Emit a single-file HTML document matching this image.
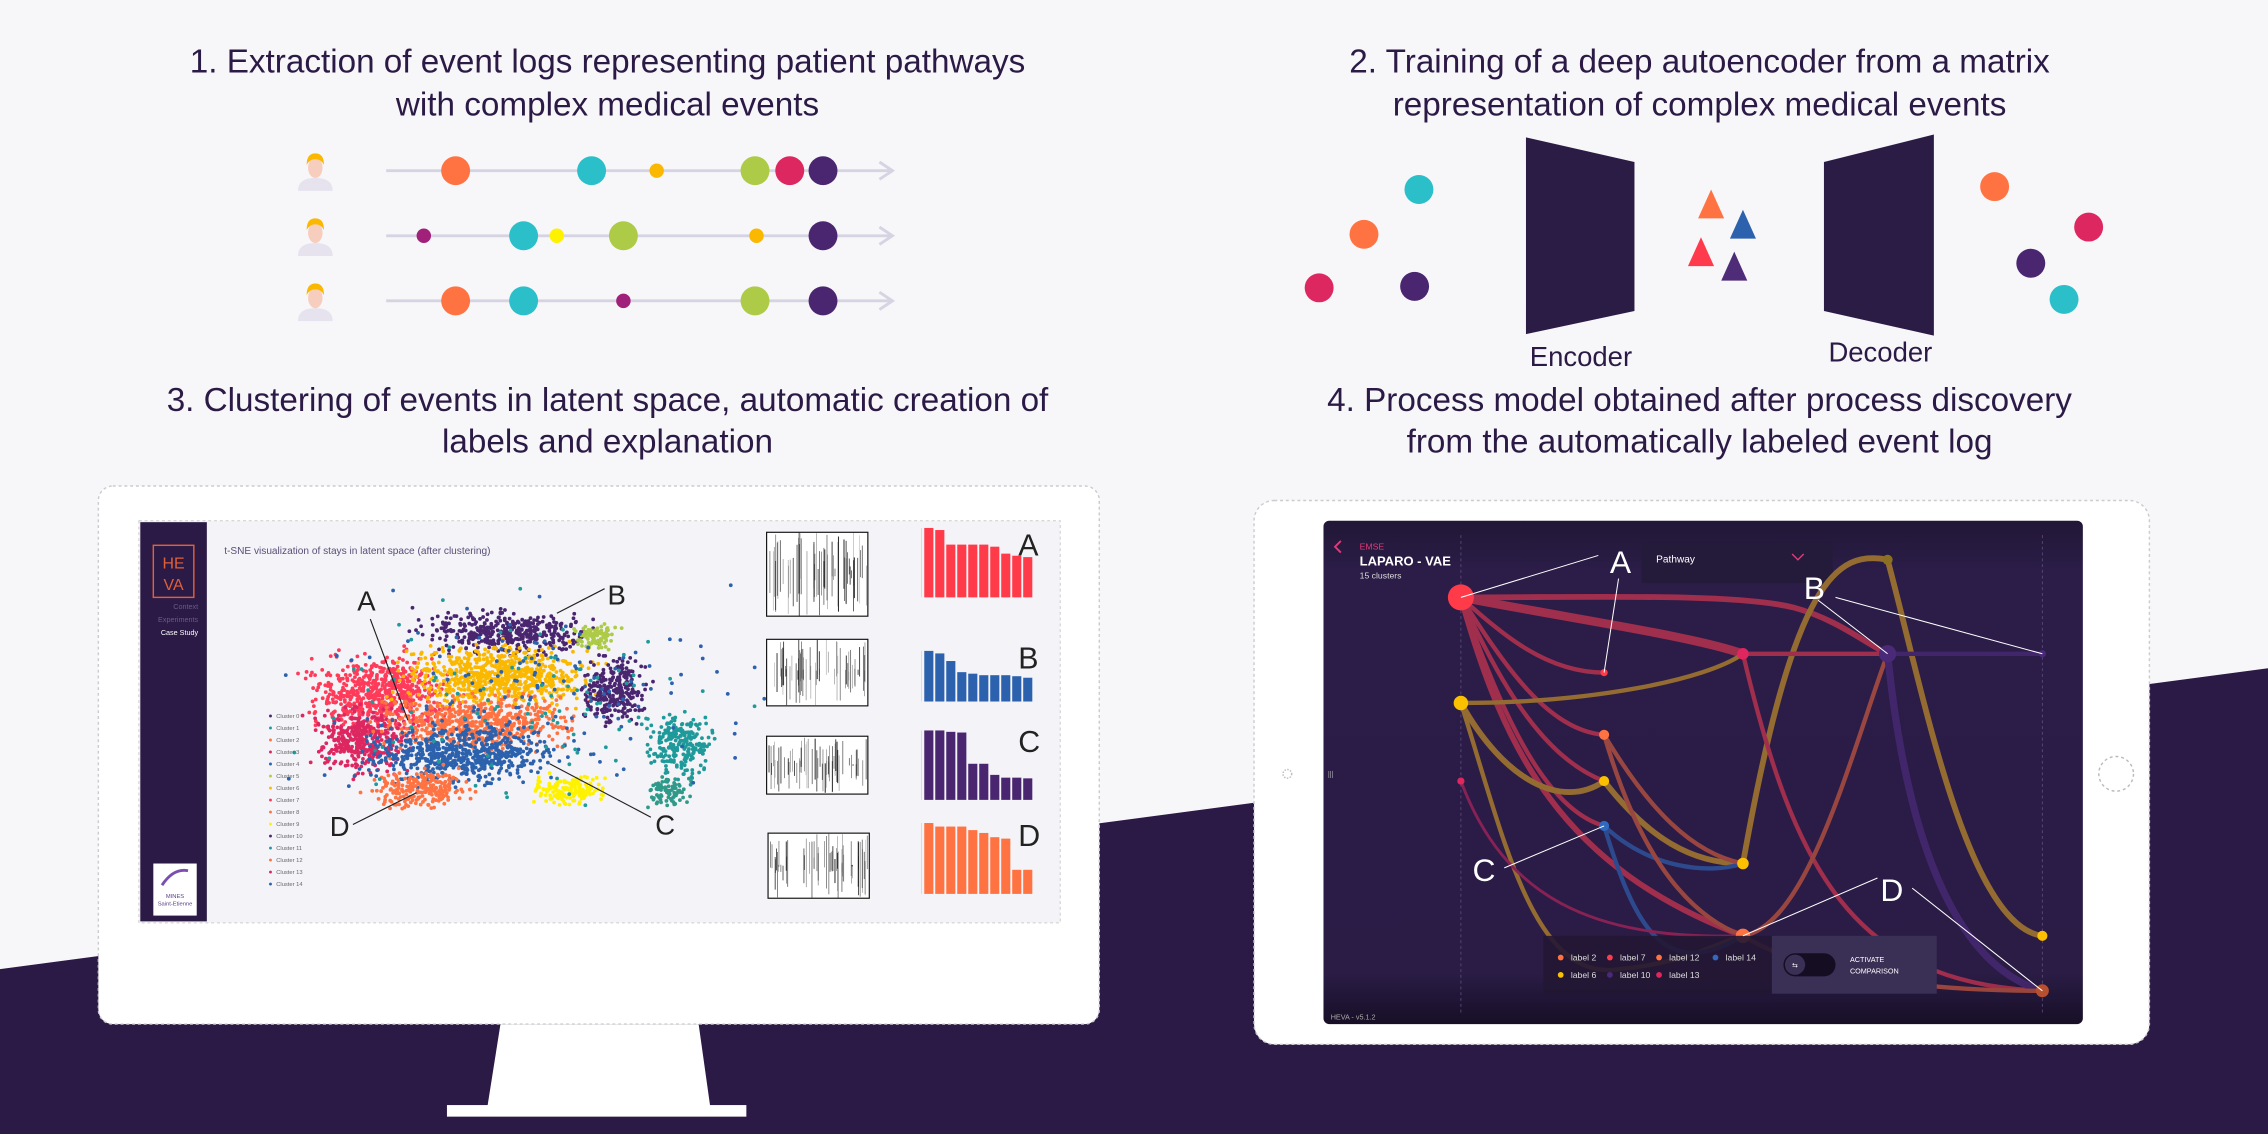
<!DOCTYPE html>
<html><head><meta charset="utf-8"><style>
html,body{margin:0;padding:0;background:#f7f6f9;overflow:hidden}
svg{display:block}
text{font-family:"Liberation Sans",sans-serif}
</style></head><body>
<svg id="s" width="2268" height="1134" viewBox="0 0 1568 784" xmlns="http://www.w3.org/2000/svg">
<rect width="1568" height="784" fill="#f7f6f9"/>
<polygon points="0,670 1568,462 1568,784 0,784" fill="#2b1a45"/>

<!-- titles -->
<g fill="#2b1a45" font-size="23" text-anchor="middle">
<text x="420" y="50">1. Extraction of event logs representing patient pathways</text>
<text x="420" y="80">with complex medical events</text>
<text x="1175" y="50">2. Training of a deep autoencoder from a matrix</text>
<text x="1175" y="80">representation of complex medical events</text>
<text x="420" y="284">3. Clustering of events in latent space, automatic creation of</text>
<text x="420" y="313">labels and explanation</text>
<text x="1175" y="284">4. Process model obtained after process discovery</text>
<text x="1175" y="313">from the automatically labeled event log</text>
</g>

<!-- pathways -->
<g id="persons"></g>
<g stroke="#d6d3e2" stroke-width="2" fill="none">
<line x1="267" y1="118" x2="617" y2="118"/><polyline points="608,112 617,118 608,124"/>
<line x1="267" y1="163" x2="617" y2="163"/><polyline points="608,157 617,163 608,169"/>
<line x1="267" y1="208" x2="617" y2="208"/><polyline points="608,202 617,208 608,214"/>
</g>
<g>
<circle cx="315" cy="118" r="10" fill="#ff7342"/><circle cx="409" cy="118" r="10" fill="#2bbfc9"/><circle cx="454" cy="118" r="5" fill="#fbb800"/><circle cx="522" cy="118" r="10" fill="#adcb47"/><circle cx="546" cy="118" r="10" fill="#dd2760"/><circle cx="569" cy="118" r="10" fill="#4a2670"/>
<circle cx="293" cy="163" r="5" fill="#a0207a"/><circle cx="362" cy="163" r="10" fill="#2bbfc9"/><circle cx="385" cy="163" r="5" fill="#fff200"/><circle cx="431" cy="163" r="10" fill="#adcb47"/><circle cx="523" cy="163" r="5" fill="#fbb800"/><circle cx="569" cy="163" r="10" fill="#4a2670"/>
<circle cx="315" cy="208" r="10" fill="#ff7342"/><circle cx="362" cy="208" r="10" fill="#2bbfc9"/><circle cx="431" cy="208" r="5" fill="#a0207a"/><circle cx="522" cy="208" r="10" fill="#adcb47"/><circle cx="569" cy="208" r="10" fill="#4a2670"/>
</g>

<!-- autoencoder -->
<circle cx="981" cy="131" r="10" fill="#2bbfc9"/><circle cx="943" cy="162" r="10" fill="#ff7342"/><circle cx="912" cy="199" r="10" fill="#dd2760"/><circle cx="978" cy="198" r="10" fill="#4a2670"/>
<polygon points="1055,95 1130,112 1130,215 1055,231" fill="#2b1c46"/>
<polygon points="1261,112 1337,93 1337,232 1261,215" fill="#2b1c46"/>
<polygon points="1183,131 1192,151 1174,151" fill="#ff7342"/>
<polygon points="1205,145 1214,165 1196,165" fill="#2c62ad"/>
<polygon points="1176,164 1185,184 1167,184" fill="#ff3a4c"/>
<polygon points="1199,174 1208,194 1190,194" fill="#4e2c78"/>
<circle cx="1379" cy="129" r="10" fill="#ff7342"/><circle cx="1444" cy="157" r="10" fill="#dd2760"/><circle cx="1404" cy="182" r="10" fill="#4a2670"/><circle cx="1427" cy="207" r="10" fill="#2bbfc9"/>
<text x="1093" y="253" font-size="19" fill="#2b1a45" text-anchor="middle">Encoder</text>
<text x="1300" y="250" font-size="19" fill="#2b1a45" text-anchor="middle">Decoder</text>

<!-- monitor -->
<polygon points="346,708 483,708 491,765 337,765" fill="#fff"/>
<rect x="309" y="764" width="207" height="8" fill="#fff"/>
<rect x="68" y="336" width="692" height="372" rx="10" fill="#fff" stroke="#ccc" stroke-dasharray="2,2"/>
<rect x="96" y="360" width="637" height="278" fill="#f4f3f7" stroke="#ccc" stroke-dasharray="2,2" stroke-width="0.7"/>
<rect x="97" y="361" width="46" height="276" fill="#2b1a45"/>
<rect x="106" y="377" width="28" height="36" fill="none" stroke="#e0603a" stroke-width="1"/>
<text x="120" y="393" font-size="11" fill="#e0603a" text-anchor="middle">HE</text>
<text x="120" y="408" font-size="11" fill="#e0603a" text-anchor="middle">VA</text>
<text x="137" y="421" font-size="5" fill="#6b5a8a" text-anchor="end">Context</text>
<text x="137" y="430" font-size="5" fill="#6b5a8a" text-anchor="end">Experiments</text>
<text x="137" y="439" font-size="5" fill="#fff" text-anchor="end">Case Study</text>
<rect x="106" y="597" width="30" height="36" fill="#fff"/>
<text x="121" y="621" font-size="4" fill="#5a3d8a" text-anchor="middle">MINES</text>
<text x="121" y="626" font-size="4" fill="#5a3d8a" text-anchor="middle">Saint-Etienne</text>
<path d="M112,612 q8,-12 18,-10" stroke="#7a4fb0" fill="none" stroke-width="2"/>
<text x="155" y="383" font-size="7" fill="#5a4e78">t-SNE visualization of stays in latent space (after clustering)</text>
<g id="scatter"></g>
<g id="legend"></g>
<g id="charts"></g>
<g font-size="19" fill="#222">
<text x="247" y="422">A</text><text x="420" y="418">B</text><text x="453" y="577">C</text><text x="228" y="578">D</text>
<text x="704" y="384" font-size="21">A</text><text x="704" y="462" font-size="21">B</text><text x="704" y="520" font-size="21">C</text><text x="704" y="585" font-size="21">D</text>
</g>
<g stroke="#222" stroke-width="0.8">
<line x1="256" y1="428" x2="282" y2="498"/><line x1="418" y1="407" x2="385" y2="424"/><line x1="450" y1="565" x2="380" y2="528"/><line x1="244" y1="570" x2="288" y2="548"/>
</g>

<!-- tablet -->
<rect x="867" y="346" width="619" height="376" rx="14" fill="#fff" stroke="#ccc" stroke-dasharray="2,2"/>
<circle cx="1463" cy="535" r="12" fill="none" stroke="#bbb" stroke-dasharray="2,2"/>
<circle cx="890" cy="535" r="3" fill="none" stroke="#bbb" stroke-dasharray="1,1"/>
<defs><linearGradient id="tg" x1="0" y1="0" x2="0" y2="1"><stop offset="0" stop-color="#211735"/><stop offset="0.1" stop-color="#2b1d48"/><stop offset="0.9" stop-color="#2a1c45"/><stop offset="1" stop-color="#170f26"/></linearGradient></defs>
<rect x="915" y="360" width="525" height="348" rx="4" fill="url(#tg)"/>
<line x1="1010" y1="370" x2="1010" y2="700" stroke="#5a4b78" stroke-dasharray="2,2" stroke-width="0.6"/>
<line x1="1412" y1="370" x2="1412" y2="700" stroke="#5a4b78" stroke-dasharray="2,2" stroke-width="0.6"/>
<text x="940" y="380" font-size="6" fill="#e23a78">EMSE</text>
<text x="940" y="391" font-size="9" fill="#fff" font-weight="bold">LAPARO - VAE</text>
<text x="940" y="400" font-size="6" fill="#ddd">15 clusters</text>
<polyline points="927,374 923,378 927,382" stroke="#e23a78" fill="none" stroke-width="1.3"/>
<rect x="1135" y="375" width="132" height="28" fill="#241a3a"/>
<text x="1145" y="389" font-size="7" fill="#fff">Pathway</text>
<polyline points="1239,383 1243,387 1247,383" stroke="#e23a78" fill="none" stroke-width="1"/>
<g fill="none" stroke-linecap="round" opacity="0.75">
<path d="M1010,413 C1100,413 1200,410 1240,420 C1270,428 1290,445 1305,452" stroke="#c8344f" stroke-width="4"/>
<path d="M1010,413 C1100,430 1170,440 1205,452" stroke="#c8344f" stroke-width="6"/>
<path d="M1010,413 C1040,440 1070,465 1109,465" stroke="#c8344f" stroke-width="3"/>
<path d="M1010,413 C1040,460 1070,505 1109,508" stroke="#c8344f" stroke-width="3"/>
<path d="M1010,413 C1040,480 1070,525 1109,540" stroke="#c8344f" stroke-width="3"/>
<path d="M1010,413 C1040,500 1070,560 1109,571" stroke="#c8344f" stroke-width="3"/>
<path d="M1010,413 C1040,520 1080,600 1205,647" stroke="#c8344f" stroke-width="4"/>
<path d="M1010,486 C1100,486 1180,470 1205,452" stroke="#b8862a" stroke-width="3"/>
<path d="M1010,486 C1040,540 1080,560 1109,540" stroke="#b8862a" stroke-width="4"/>
<path d="M1010,486 C1040,580 1060,680 1120,670 C1170,665 1190,650 1205,647" stroke="#b8862a" stroke-width="3"/>
<path d="M1109,540 C1140,580 1170,597 1205,597" stroke="#b8862a" stroke-width="4"/>
<path d="M1205,597 C1240,400 1270,380 1305,387 C1330,480 1360,640 1412,647" stroke="#b8862a" stroke-width="4"/>
<path d="M1109,571 C1140,600 1180,605 1205,597" stroke="#2f5aa8" stroke-width="3"/>
<path d="M1109,571 C1130,640 1150,680 1205,647" stroke="#2f5aa8" stroke-width="3"/>
<path d="M1109,508 C1140,560 1170,590 1205,597" stroke="#c0553f" stroke-width="3"/>
<path d="M1109,508 C1130,580 1160,630 1205,647" stroke="#c0553f" stroke-width="3"/>
<path d="M1205,452 L1305,452" stroke="#c8344f" stroke-width="3"/>
<path d="M1305,452 L1412,452" stroke="#4a2a78" stroke-width="3"/>
<path d="M1205,452 C1240,600 1280,680 1412,685" stroke="#c8344f" stroke-width="3"/>
<path d="M1305,452 C1280,520 1250,640 1205,647" stroke="#c0553f" stroke-width="3"/>
<path d="M1305,452 C1320,600 1360,670 1412,685" stroke="#4a2a78" stroke-width="5"/>
<path d="M1010,540 C1040,620 1100,650 1205,647" stroke="#a8235a" stroke-width="2"/>
<path d="M1205,647 C1260,680 1350,685 1412,685" stroke="#c0553f" stroke-width="3"/>
</g>
<circle cx="1010" cy="413" r="9" fill="#ff3b4a"/>
<circle cx="1010" cy="486" r="5" fill="#fbc000"/>
<circle cx="1109" cy="465" r="2.5" fill="#ff3b4a"/>
<circle cx="1109" cy="508" r="3.5" fill="#ff7342"/>
<circle cx="1109" cy="540" r="3.5" fill="#fbc000"/>
<circle cx="1109" cy="571" r="3.5" fill="#2f6ac0"/>
<circle cx="1205" cy="452" r="4" fill="#e0265e"/>
<circle cx="1305" cy="452" r="6" fill="#4a2a78"/>
<circle cx="1205" cy="597" r="4" fill="#fbc000"/>
<circle cx="1205" cy="647" r="5" fill="#ff7342"/>
<circle cx="1305" cy="387" r="3.5" fill="#8a7020"/>
<circle cx="1412" cy="452" r="2.5" fill="#4a2a78"/>
<circle cx="1412" cy="647" r="3.5" fill="#fbc000"/>
<circle cx="1412" cy="685" r="4.5" fill="#b8502f"/>
<circle cx="1010" cy="540" r="2.5" fill="#e0265e"/>
<rect x="1067" y="647" width="158" height="40" fill="#221733" opacity="0.9"/>
<rect x="1225" y="647" width="114" height="40" fill="#3a2f55"/>
<rect x="1233" y="659" width="36" height="16" rx="8" fill="#150e22"/>
<circle cx="1241" cy="667" r="7" fill="#3a2f55"/>
<text x="1241" y="669" font-size="5" fill="#fff" text-anchor="middle">⇆</text>
<text x="1279" y="665" font-size="5" fill="#fff">ACTIVATE</text>
<text x="1279" y="673" font-size="5" fill="#fff">COMPARISON</text>
<g font-size="6" fill="#ddd">
<circle cx="1079" cy="662" r="2" fill="#ff7342"/><text x="1086" y="664">label 2</text>
<circle cx="1113" cy="662" r="2" fill="#ff3b4a"/><text x="1120" y="664">label 7</text>
<circle cx="1147" cy="662" r="2" fill="#ff7342"/><text x="1154" y="664">label 12</text>
<circle cx="1186" cy="662" r="2" fill="#2f6ac0"/><text x="1193" y="664">label 14</text>
<circle cx="1079" cy="674" r="2" fill="#fbc000"/><text x="1086" y="676">label 6</text>
<circle cx="1113" cy="674" r="2" fill="#4a2a78"/><text x="1120" y="676">label 10</text>
<circle cx="1147" cy="674" r="2" fill="#e0265e"/><text x="1154" y="676">label 13</text>
</g>
<text x="920" y="705" font-size="5" fill="#aaa">HEVA - v5.1.2</text>
<text x="918" y="537" font-size="5" fill="#aaa">|||</text>
<g font-size="22" fill="#fff">
<text x="1113" y="396">A</text><text x="1247" y="414">B</text><text x="1018" y="609">C</text><text x="1300" y="623">D</text>
</g>
<g stroke="#fff" stroke-width="0.7">
<line x1="1010" y1="413" x2="1105" y2="384"/><line x1="1109" y1="465" x2="1119" y2="400"/>
<line x1="1269" y1="413" x2="1412" y2="452"/><line x1="1257" y1="415" x2="1305" y2="452"/>
<line x1="1040" y1="600" x2="1109" y2="571"/><line x1="1205" y1="647" x2="1298" y2="607"/><line x1="1322" y1="614" x2="1412" y2="685"/>
</g>
</svg>
<script>
var NS="http://www.w3.org/2000/svg";
function el(p,t,a){var e=document.createElementNS(NS,t);for(var k in a)e.setAttribute(k,a[k]);p.appendChild(e);return e;}
var seed=7;function r(){seed=(seed*16807)%2147483647;return seed/2147483647;}
function g(){return (r()+r()+r()-1.5)/1.5;}
var P=document.getElementById("persons");
[118,163,208].forEach(function(y){
 el(P,"path",{d:"M206,"+(y+14)+" q0,-9 12,-9 q12,0 12,9 z",fill:"#e6e3ee"});
 el(P,"ellipse",{cx:218,cy:y-2,rx:5,ry:7,fill:"#f7cdbd"});
 el(P,"path",{d:"M212,"+(y-4)+" q0,-8 6,-8 q6,0 6,8 q-2,-4 -6,-4 q-4,0 -6,4z",fill:"#fbb800"});
});
var S=document.getElementById("scatter");
var C=[[350,437,60,15,"#4a2670",400],[412,440,15,10,"#adcb47",90],[262,480,50,28,"#ff3b5a",650],[250,512,35,24,"#dd2760",380],[345,468,65,22,"#fbb800",750],[330,500,65,20,"#ff7342",600],[425,478,24,24,"#4a2670",280],[320,522,66,20,"#2c62ad",650],[470,515,24,24,"#1f9a9a",240],[292,545,35,14,"#ff7342",240],[395,546,26,10,"#fff200",170],[462,547,15,11,"#2f9a8a",90],[370,480,150,65,"#2c62ad",160],[360,490,160,75,"#1f9a9a",100]];
C.forEach(function(c){for(var i=0;i<c[5];i++){el(S,"circle",{cx:c[0]+g()*c[2]*1.3,cy:c[1]+g()*c[3]*1.3,r:1.3,fill:c[4]});}});
var L=document.getElementById("legend");
var lc=["#4a2670","#1f9a9a","#ff7342","#dd2760","#2c62ad","#adcb47","#fbb800","#ff3b5a","#ff7342","#fff200","#4a2670","#1f9a9a","#ff7342","#dd2760","#2c62ad"];
lc.forEach(function(c,i){var y=495+i*8.3;el(L,"circle",{cx:187,cy:y,r:1,fill:c});var t=el(L,"text",{x:191,y:y+1.5,"font-size":4,fill:"#666"});t.textContent="Cluster "+i;});
var H=document.getElementById("charts");
var bars=[[365,413,"#ff3b4a",[1,.97,.76,.76,.76,.76,.73,.63,.6,.58]],[450,485,"#2c62ad",[1,.95,.8,.58,.55,.52,.52,.52,.5,.47]],[505,553,"#4a2670",[1,1,.98,.97,.52,.52,.36,.32,.32,.31]],[569,618,"#ff7342",[1,.95,.95,.95,.9,.86,.8,.78,.34,.34]]];
bars.forEach(function(b){var h=b[1]-b[0];b[3].forEach(function(v,i){el(H,"rect",{x:639+i*7.6,y:b[1]-h*v,width:6.3,height:h*v,fill:b[2]});});el(H,"line",{x1:637,y1:b[0],x2:637,y2:b[1],stroke:"#ccc","stroke-width":0.4});});
[[530,368,70,58],[530,442,70,46],[530,509,70,40],[531,576,70,45]].forEach(function(m){
 el(H,"rect",{x:m[0],y:m[1],width:m[2],height:m[3],fill:"#fff",stroke:"#111","stroke-width":0.8});
 for(var i=0;i<55;i++){var x=m[0]+1+r()*(m[2]-2);el(H,"line",{x1:x,y1:m[1]+r()*m[3]*0.5,x2:x,y2:m[1]+m[3]*(0.5+r()*0.5),stroke:"#111","stroke-width":0.3+r()*0.5,opacity:0.3+r()*0.6});}
});
</script>
</body></html>
